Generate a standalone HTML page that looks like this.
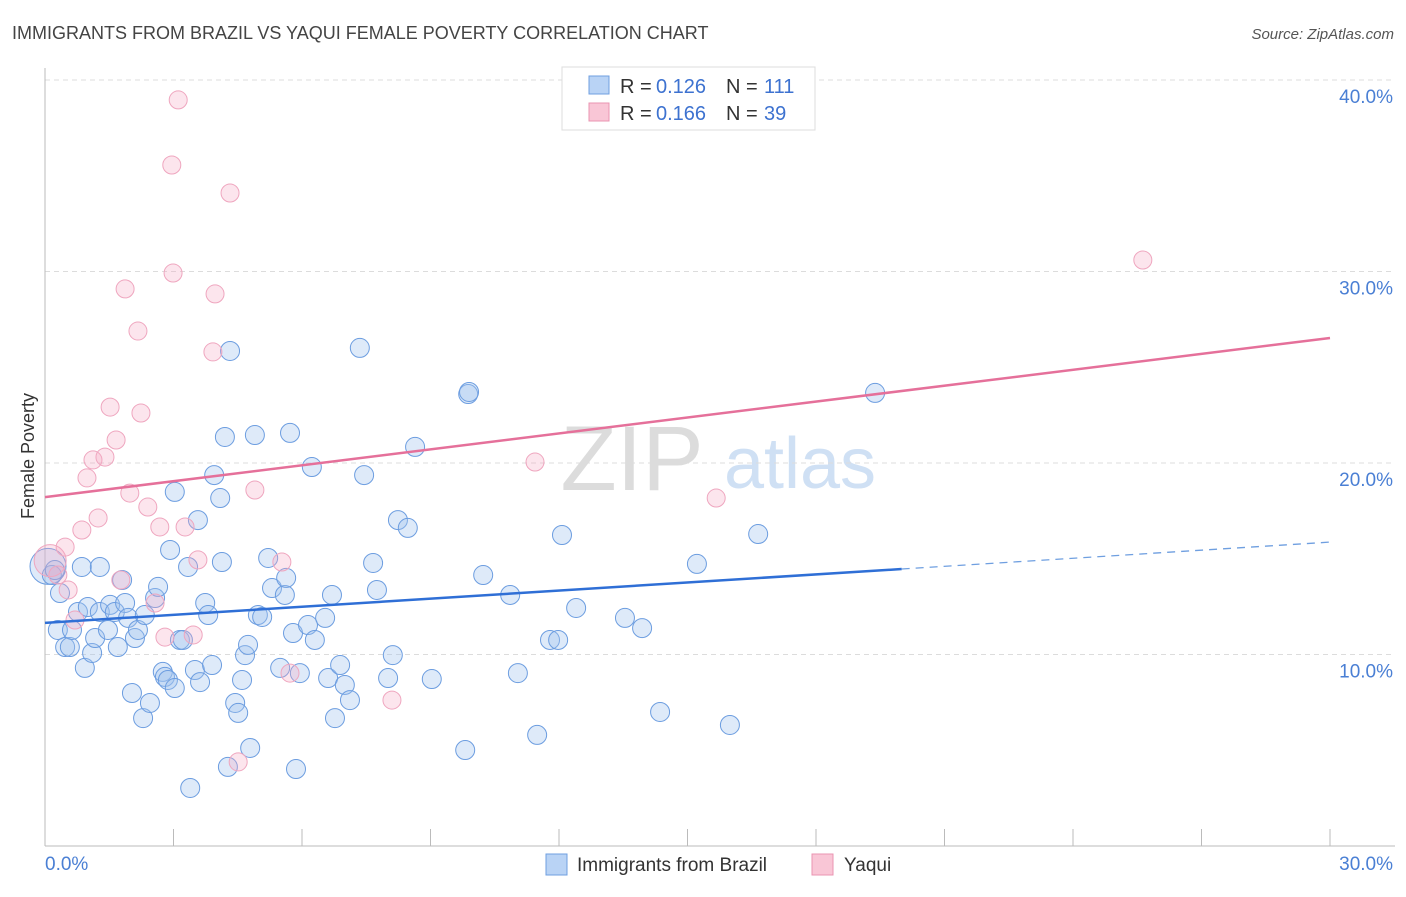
<!DOCTYPE html>
<html><head><meta charset="utf-8"><style>
body{margin:0;background:#fff;font-family:"Liberation Sans",sans-serif}
svg text{font-family:"Liberation Sans",sans-serif}
</style></head><body>
<svg id="chart" width="1406" height="892" xmlns="http://www.w3.org/2000/svg">
<text x="12" y="39" font-size="18" fill="#444">IMMIGRANTS FROM BRAZIL VS YAQUI FEMALE POVERTY CORRELATION CHART</text>
<text x="1394" y="39" font-size="15" fill="#555" text-anchor="end" font-style="italic">Source: ZipAtlas.com</text>
<g>
<text x="632" y="490" font-size="92" fill="#dcdcdc" text-anchor="middle" font-family="Liberation Serif">ZIP</text>
<text x="800" y="488" font-size="72" fill="#cfe0f4" text-anchor="middle">atlas</text>
</g>
<g id="grid"></g>
<g id="axes"></g>
<g id="marks"></g>
<text transform="translate(34,456) rotate(-90)" font-size="18" fill="#333" text-anchor="middle">Female Poverty</text>
<g>
<rect x="562" y="67" width="253" height="63" fill="#fff" stroke="#ddd"/>
<rect x="589" y="76" width="20" height="18" fill="#b9d3f5" stroke="#6f9fe0"/>
<text x="620" y="93" font-size="20" fill="#333">R =</text>
<text x="656" y="93" font-size="20" fill="#3d72d0">0.126</text>
<text x="726" y="93" font-size="20" fill="#333">N =</text>
<text x="764" y="93" font-size="20" fill="#3d72d0">111</text>
<rect x="589" y="103" width="20" height="18" fill="#f9c6d6" stroke="#ea94b1"/>
<text x="620" y="120" font-size="20" fill="#333">R =</text>
<text x="656" y="120" font-size="20" fill="#3d72d0">0.166</text>
<text x="726" y="120" font-size="20" fill="#333">N =</text>
<text x="764" y="120" font-size="20" fill="#3d72d0">39</text>
</g>
<g>
<rect x="546" y="854" width="21" height="21" fill="#b9d3f5" stroke="#6f9fe0"/>
<text x="577" y="871" font-size="19" fill="#333">Immigrants from Brazil</text>
<rect x="812" y="854" width="21" height="21" fill="#f9c6d6" stroke="#ea94b1"/>
<text x="844" y="871" font-size="19" fill="#333">Yaqui</text>
</g>
</svg>
<script>
const blueX=[0.16,0.23,0.35,0.30,0.47,0.58,0.63,0.77,0.86,0.93,1.00,1.10,1.17,1.28,1.28,1.47,1.52,1.63,1.70,1.80,1.87,1.94,2.03,2.10,2.17,2.29,2.33,2.45,2.57,2.64,2.75,2.80,2.87,2.92,3.03,3.03,3.15,3.22,3.34,3.39,3.50,3.57,3.62,3.74,3.81,3.90,3.95,4.09,4.13,4.20,4.27,4.32,4.44,4.51,4.60,4.67,4.74,4.79,4.90,4.97,5.07,5.21,5.30,5.49,5.60,5.63,5.72,5.79,5.86,5.95,6.14,6.23,6.30,6.54,6.61,6.70,6.77,6.89,7.00,7.12,7.35,7.45,7.66,7.75,8.01,8.12,8.24,8.47,8.64,9.03,9.81,9.88,9.90,10.23,10.86,11.04,11.49,11.79,11.98,12.07,12.40,13.54,13.94,14.36,15.22,15.99,16.65,19.38];
const blueY=[14.15,14.41,13.21,11.28,10.39,10.39,11.28,12.22,14.57,9.30,12.48,10.08,10.86,14.57,12.22,11.28,12.59,12.22,10.39,13.89,12.69,11.91,7.99,10.86,11.28,6.68,12.06,7.47,12.95,13.53,9.09,8.83,8.67,15.46,8.25,18.49,10.76,10.76,14.57,3.03,9.19,17.02,8.56,12.69,12.06,9.45,19.37,18.17,14.83,21.36,4.13,25.85,7.47,6.95,8.67,9.97,10.50,5.12,21.46,12.06,11.96,15.04,13.47,9.30,13.11,14.00,21.57,11.12,4.02,9.03,11.54,19.79,10.76,11.91,8.77,13.11,6.68,9.45,8.41,7.62,26.01,19.37,14.78,13.37,8.77,9.97,17.02,16.61,20.84,8.72,5.01,23.60,23.71,14.15,13.11,9.03,5.80,10.76,10.76,16.24,12.43,11.91,11.38,7.00,14.73,6.32,16.29,23.66];
const pinkX=[3.11,2.96,4.32,2.99,1.87,3.97,2.17,3.92,1.52,2.24,1.66,1.12,1.40,0.98,1.98,1.24,2.40,0.86,2.68,3.27,0.47,3.57,5.53,4.90,1.77,0.54,0.70,2.57,2.80,3.46,5.72,8.10,4.51,11.44,15.67,25.63,0.30];
const pinkY=[38.96,35.56,34.10,29.92,29.09,28.83,26.89,25.80,22.92,22.61,21.20,20.16,20.31,19.22,18.43,17.13,17.70,16.50,16.66,16.66,15.61,14.94,14.83,18.59,13.89,13.37,11.80,12.69,10.91,11.02,9.03,7.62,4.39,20.05,18.17,30.60,14.15];
const bigBlue=[0.07,14.6], bigPink=[0.12,14.9];
const blueTrend=[11.65,15.87], blueSolidEnd=20.0;
const pinkTrend=[18.22,26.53];
const yTicks=[10,20,30,40];
const xTickLabels=["0.0%","30.0%"];
const NS="http://www.w3.org/2000/svg";
const X0=45,X1=1330,Y0=846,YP=19.15;
const sx=v=>X0+(X1-X0)*v/30, sy=v=>Y0-v*YP;
function mk(p,tag,attrs){const e=document.createElementNS(NS,tag);for(const k in attrs)e.setAttribute(k,attrs[k]);p.appendChild(e);return e;}
const grid=document.getElementById('grid'),axes=document.getElementById('axes'),marks=document.getElementById('marks');
yTicks.forEach(t=>{
 const l=mk(grid,'line',{x1:X0,x2:1395,y1:sy(t),y2:sy(t),stroke:'#dcdcdc','stroke-dasharray':'5,4'});
 
 
 const tx=mk(grid,'text',{x:1393,y:sy(t)+23,'font-size':19,fill:'#4a7fd4','text-anchor':'end'});
 tx.textContent=t.toFixed(1)+'%';
 
 
});
const ax=mk(axes,'line',{x1:X0,x2:X0,y1:68,y2:Y0,stroke:'#bbb'});


const bx=mk(axes,'line',{x1:X0,x2:1395,y1:Y0,y2:Y0,stroke:'#bbb'});


for(let i=0;i<=10;i++){const t=mk(axes,'line',{x1:sx(i*3),x2:sx(i*3),y1:829,y2:Y0,stroke:'#bbb'});
 
 }
const xl0=mk(axes,'text',{x:45,y:870,'font-size':19,fill:'#4a7fd4'});xl0.textContent=xTickLabels[0];


const xl1=mk(axes,'text',{x:1393,y:870,'font-size':19,fill:'#4a7fd4','text-anchor':'end'});xl1.textContent=xTickLabels[1];


function dot(x,y,r,pink){const c=mk(marks,'circle',{cx:sx(x),cy:sy(y),r:r,fill:pink?'rgba(246,170,195,0.3)':'rgba(160,195,238,0.35)',stroke:pink?'#efa6bf':'#6c9de0','stroke-width':1});
 return c;}
let c=dot(bigBlue[0],bigBlue[1],18,false);


blueX.forEach((x,i)=>{const d=dot(x,blueY[i],9.5,false);
 
 });
c=dot(bigPink[0],bigPink[1],16,true);


pinkX.forEach((x,i)=>{const d=dot(x,pinkY[i],9,true);
 
 });
const by=x=>blueTrend[0]+(blueTrend[1]-blueTrend[0])*x/30;
let t1=mk(marks,'line',{x1:sx(0),y1:sy(blueTrend[0]),x2:sx(blueSolidEnd),y2:sy(by(blueSolidEnd)),stroke:'#2f6fd6','stroke-width':2.5});


let t2=mk(marks,'line',{x1:sx(blueSolidEnd),y1:sy(by(blueSolidEnd)),x2:sx(30),y2:sy(blueTrend[1]),stroke:'#6f9fe0','stroke-width':1.3,'stroke-dasharray':'8,6'});


let t3=mk(marks,'line',{x1:sx(0),y1:sy(pinkTrend[0]),x2:sx(30),y2:sy(pinkTrend[1]),stroke:'#e5709a','stroke-width':2.5});


</script>
</body></html>
